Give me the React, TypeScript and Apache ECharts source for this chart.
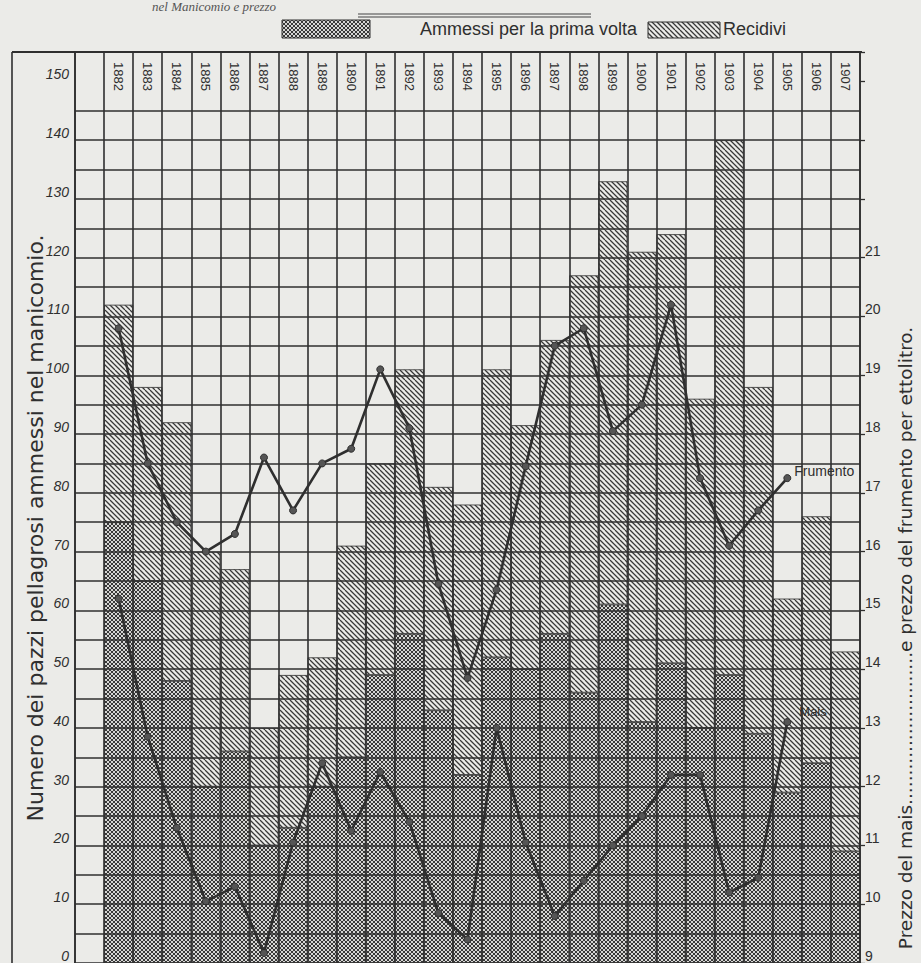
import React, { useEffect, useRef } from 'react';
import * as echarts from 'echarts';

const years = ['1882','1883','1884','1885','1886','1887','1888','1889','1890','1891','1892','1893','1894','1895','1896','1897','1898','1899','1900','1901','1902','1903','1904','1905','1906','1907'];
// admitted for the first time (cross-hatched)
const primaVolta = [75,65,48,30,36,20,23,30,35,49,56,43,32,52,50,56,46,61,41,51,40,49,39,29,34,19];
// total admitted (top of the hatched bar)
const totale = [112,98,92,70,67,40,49,52,71,85,101,81,78,101,91.5,106,117,133,121,124,96,140,98,62,76,53];
// prices per hectolitre, 1882-1905
const frumento = [19.8,17.5,16.5,16.0,16.3,17.6,16.7,17.5,17.75,19.1,18.1,15.45,13.85,15.35,17.45,19.5,19.8,18.05,18.5,20.2,17.25,16.1,16.7,17.25];
const mais = [15.2,12.85,11.3,10.05,10.3,9.17,11.05,12.4,11.25,12.25,11.4,9.85,9.4,13.0,11.05,9.8,10.4,11.0,11.5,12.2,12.2,10.2,10.45,13.1];
const leftTicks = [0,10,20,30,40,50,60,70,80,90,100,110,120,130,140,150];
const rightTicks = [9,10,11,12,13,14,15,16,17,18,19,20,21];

const INK = '#2f2f2f';
const PAPER = '#ebebe8';
const FONT = "'Liberation Sans', 'DejaVu Sans', sans-serif";

function makeHatch(cross: boolean) {
  const size = cross ? 8 : 10;
  const c = document.createElement('canvas');
  c.width = size; c.height = size;
  const ctx = c.getContext('2d')!;
  ctx.clearRect(0, 0, size, size);
  if (cross) { ctx.fillStyle = 'rgba(150,150,150,0.25)'; ctx.fillRect(0, 0, size, size); }
  const n = 2;
  const t = size / n;
  ctx.strokeStyle = '#383838';
  ctx.lineWidth = cross ? 1.0 : 1.25;
  ctx.beginPath();
  for (let k = -n; k <= n; k++) { ctx.moveTo(k * t, 0); ctx.lineTo(k * t + size, size); }
  if (cross) for (let k = -n; k <= n; k++) { ctx.moveTo(k * t + size, 0); ctx.lineTo(k * t, size); }
  ctx.stroke();
  return c;
}

export default function App() {
  const ref = useRef<HTMLDivElement>(null);
  useEffect(() => {
    if (!ref.current) return;
    const chart = echarts.init(ref.current, undefined, { renderer: 'svg' });
    const crossPat = { image: makeHatch(true), repeat: 'repeat' } as any;
    const hatchPat = { image: makeHatch(false), repeat: 'repeat' } as any;
    const cats = ['', ...years];
    const recidivi = totale.map((t, i) => +(t - primaVolta[i]).toFixed(2));
    const gridVals: number[] = [];
    for (let v = 5; v <= 145; v += 5) gridVals.push(v);
    const linePts = (arr: number[], lab: any) => {
      const d: any[] = ['-'];
      arr.forEach((v, i) => {
        if (i === arr.length - 1) d.push({ value: v, label: lab });
        else d.push(v);
      });
      while (d.length < cats.length) d.push('-');
      return d;
    };
    const option: any = {
      animation: false,
      backgroundColor: PAPER,
      grid: { left: 75, right: 61, top: 52, bottom: 0, containLabel: false },
      xAxis: [
        {
          type: 'category', data: cats, position: 'bottom', boundaryGap: true,
          axisLabel: { show: false }, axisTick: { show: false },
          axisLine: { show: true, lineStyle: { color: INK, width: 1.5 } },
          splitLine: { show: true, interval: 0, lineStyle: { color: INK, width: 1.6 } },
        },
        {
          type: 'category', data: cats, position: 'top', boundaryGap: true, gridIndex: 0,
          axisLabel: { inside: true, rotate: 90, margin: 10, interval: 0, fontSize: 13, color: INK, fontFamily: FONT },
          axisTick: { show: false },
          axisLine: { show: true, lineStyle: { color: INK, width: 2 } },
          splitLine: { show: false },
        },
      ],
      yAxis: [
        {
          type: 'value', min: 0, max: 155, interval: 5, position: 'left',
          axisLine: { show: true, lineStyle: { color: INK, width: 1.6 } },
          axisTick: { show: false },
          splitLine: { show: false },
          axisLabel: {
            margin: 6, fontSize: 14, color: INK, fontFamily: FONT, fontStyle: 'italic', verticalAlign: 'bottom',
            formatter: (v: number) => (leftTicks.indexOf(v) >= 0 ? String(v) : ''),
          },
        },
        {
          type: 'value', min: 9, max: 24.5, interval: 1, position: 'right',
          axisLine: { show: true, lineStyle: { color: INK, width: 1.6 } },
          axisTick: { show: true, length: 5, lineStyle: { color: INK, width: 1.3 } },
          splitLine: { show: false },
          axisLabel: {
            margin: 5, fontSize: 14, color: INK, fontFamily: FONT, verticalAlign: 'bottom', align: 'left',
            formatter: (v: number) => (rightTicks.indexOf(v) >= 0 ? String(v) : ''),
          },
        },
      ],
      series: [
        {
          name: 'Ammessi per la prima volta', type: 'bar', stack: 'a', barCategoryGap: '0%',
          data: ['-', ...primaVolta],
          itemStyle: { color: crossPat, borderColor: INK, borderWidth: 0.8 },
          markLine: {
            silent: true, symbol: ['none', 'none'], z: 5,
            label: { show: false },
            lineStyle: { color: INK, type: 'solid', width: 1.5 },
            data: gridVals.map((v) => ({ yAxis: v })),
          },
        },
        {
          name: 'Recidivi', type: 'bar', stack: 'a', barCategoryGap: '0%',
          data: ['-', ...recidivi],
          itemStyle: { color: hatchPat, borderColor: INK, borderWidth: 0.8 },
        },
        {
          name: 'Frumento', type: 'line', yAxisIndex: 1, z: 10,
          data: linePts(frumento, { show: true, formatter: 'Frumento', position: 'right', distance: 3, offset: [0, -7], fontSize: 14, color: INK, fontFamily: "'Liberation Sans Narrow', 'Liberation Sans', sans-serif" }),
          symbol: 'circle', symbolSize: 7, connectNulls: false,
          lineStyle: { color: INK, width: 2.6 }, itemStyle: { color: '#555', borderColor: INK, borderWidth: 1 },
        },
        {
          name: 'Mais', type: 'line', yAxisIndex: 1, z: 10,
          data: linePts(mais, { show: true, formatter: 'Mais', position: 'right', distance: 8, offset: [0, -11], fontSize: 13, color: INK, fontFamily: FONT }),
          symbol: 'circle', symbolSize: 7, connectNulls: false,
          lineStyle: { color: INK, width: 2.6 }, itemStyle: { color: '#555', borderColor: INK, borderWidth: 1 },
        },
      ],
      graphic: [
        { type: 'line', shape: { x1: 12, y1: 52, x2: 862, y2: 52 }, style: { stroke: INK, lineWidth: 2 } },
        { type: 'line', shape: { x1: 12, y1: 52, x2: 12, y2: 963 }, style: { stroke: INK, lineWidth: 1.6 } },
        {
          type: 'text', x: 152, y: 6,
          style: { text: 'nel Manicomio e prezzo', fontSize: 13, fontStyle: 'italic', fontFamily: "'Liberation Serif', serif", fill: '#555', align: 'left', verticalAlign: 'middle' },
        },
        { type: 'line', shape: { x1: 358, y1: 14, x2: 591, y2: 14 }, style: { stroke: '#444', lineWidth: 1.2 } },
        { type: 'line', shape: { x1: 358, y1: 17, x2: 591, y2: 17 }, style: { stroke: '#444', lineWidth: 1.2 } },
        { type: 'rect', shape: { x: 282, y: 20, width: 88, height: 18 }, style: { fill: crossPat, stroke: INK, lineWidth: 1 } },
        {
          type: 'text', x: 420, y: 29,
          style: { text: 'Ammessi per la prima volta', fontSize: 18, fontFamily: "'Liberation Sans Narrow', 'Liberation Sans', sans-serif", fill: INK, align: 'left', verticalAlign: 'middle' },
        },
        { type: 'rect', shape: { x: 648, y: 22, width: 72, height: 16 }, style: { fill: hatchPat, stroke: INK, lineWidth: 1 } },
        {
          type: 'text', x: 723, y: 29,
          style: { text: 'Recidivi', fontSize: 18, fontFamily: "'Liberation Sans Narrow', 'Liberation Sans', sans-serif", fill: INK, align: 'left', verticalAlign: 'middle' },
        },
        {
          type: 'text', x: 35, y: 528, rotation: Math.PI / 2,
          style: { text: 'Numero dei pazzi pellagrosi ammessi nel manicomio.', fontSize: 22, fontFamily: "'DejaVu Sans', sans-serif", fill: INK, align: 'center', verticalAlign: 'middle' },
        },
        {
          type: 'text', x: 905, y: 638, rotation: Math.PI / 2,
          style: { text: 'Prezzo del mais..........................e prezzo del frumento per ettolitro.', fontSize: 18.5, fontFamily: "'DejaVu Sans', sans-serif", fill: INK, align: 'center', verticalAlign: 'middle' },
        },
      ],
    };
    chart.setOption(option);
    return () => chart.dispose();
  }, []);
  return <div ref={ref} style={{ position: 'absolute', left: 0, top: 0, width: 921, height: 963 }} />;
}
